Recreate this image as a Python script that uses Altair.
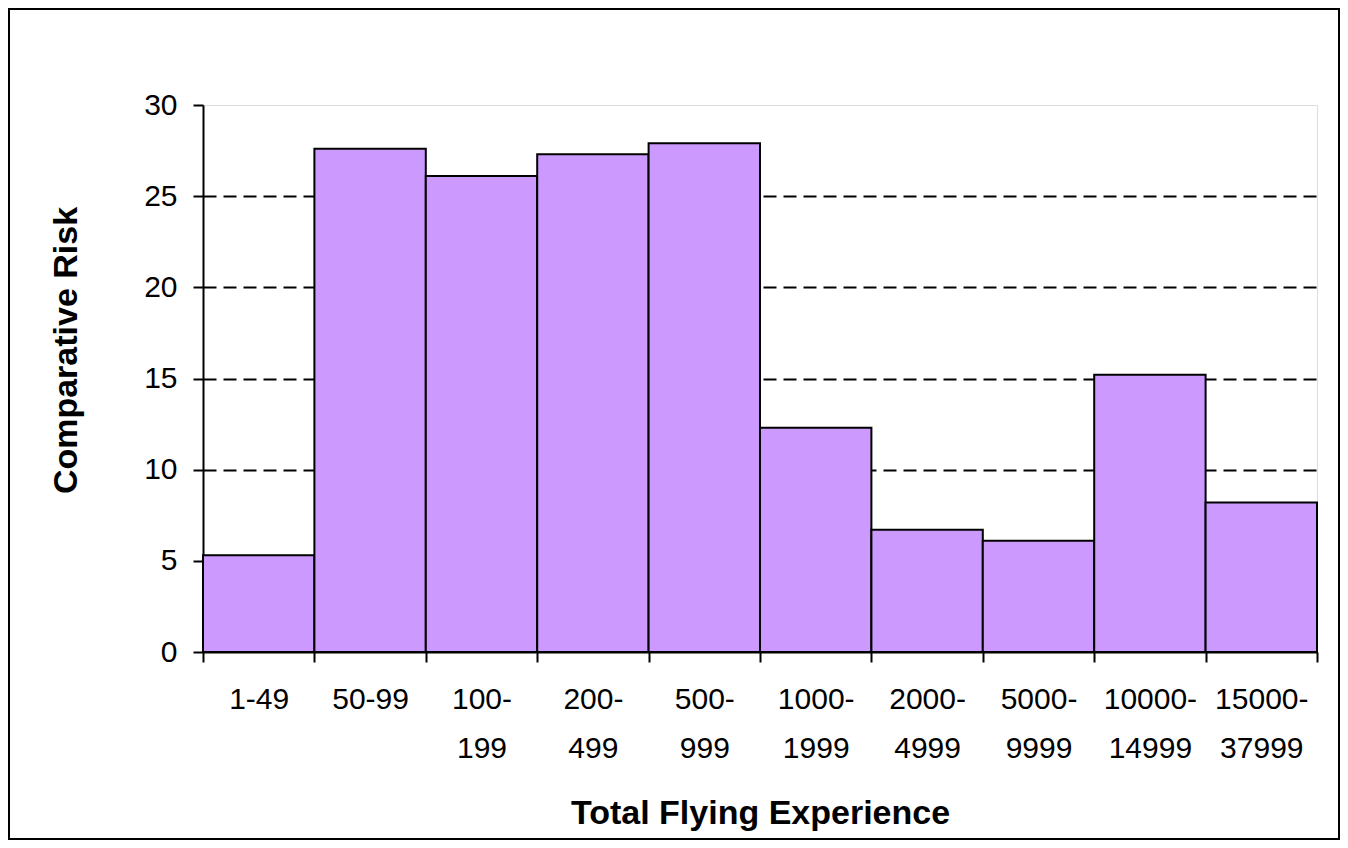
import altair as alt
import pandas as pd

categories = ["1-49", "50-99", "100-199", "200-499", "500-999",
              "1000-1999", "2000-4999", "5000-9999", "10000-14999", "15000-37999"]
risk = [5.3, 27.6, 26.1, 27.3, 27.9, 12.3, 6.7, 6.1, 15.2, 8.2]
y_ticks = [0, 5, 10, 15, 20, 25, 30]

df = pd.DataFrame({"exp": categories, "risk": risk})

W, H = 1114, 547
PL, PT, PR, PB = 195, 97, 23, 188
FONT = "Liberation Sans"

label_expr = ("indexof(datum.label, '-') >= 3 ? "
              "[slice(datum.label, 0, indexof(datum.label, '-') + 1), "
              "slice(datum.label, indexof(datum.label, '-') + 1)] : datum.label")

bars = alt.Chart(df).mark_bar(
    color="#CC99FF", stroke="black", strokeWidth=2
).encode(
    x=alt.X("exp:N", sort=categories,
            scale=alt.Scale(paddingInner=0, paddingOuter=0),
            axis=alt.Axis(title="Total Flying Experience", labelAngle=0,
                          labelExpr=label_expr, labelLineHeight=49,
                          labelBaseline="alphabetic", labelPadding=46,
                          tickBand="extent", tickSize=10, tickWidth=2,
                          tickColor="black", domainColor="black", domainWidth=2,
                          labelFont=FONT, labelFontSize=30, labelColor="black",
                          titleFont=FONT, titleFontSize=34, titleFontWeight="bold",
                          titleColor="black", titleX=W / 2, titleY=171,
                          titleBaseline="alphabetic", labelOverlap=False,
                          labelLimit=300)),
    y=alt.Y("risk:Q",
            scale=alt.Scale(domain=[0, 30], nice=False),
            axis=alt.Axis(title="Comparative Risk", values=y_ticks,
                          tickSize=10, tickWidth=2, tickColor="black",
                          domainColor="black", domainWidth=2,
                          labelFont=FONT, labelFontSize=30, labelColor="black",
                          labelPadding=16,
                          grid=True, gridColor="black", gridWidth=2,
                          gridDash=[13, 7],
                          gridOpacity={"condition": {"test": "datum.value === 30 || datum.value === 0", "value": 0}, "value": 1},
                          titleFont=FONT, titleFontSize=34, titleFontWeight="bold",
                          titleColor="black", titleX=-127, titleY=245,
                          titleBaseline="alphabetic")),
)

border = alt.Chart(alt.Data(values=[{}])).mark_rect(
    fill="transparent", stroke="black", strokeWidth=2, clip=False
).encode(
    x=alt.value(-PL + 1), x2=alt.value(W + PR - 1),
    y=alt.value(-PT + 1), y2=alt.value(H + PB - 1),
)

chart = alt.layer(bars, border).properties(
    width=W, height=H,
    autosize=alt.AutoSizeParams(type="none"),
    padding={"left": PL, "top": PT, "right": PR, "bottom": PB},
).configure_view(
    stroke="#a0a0a0", strokeWidth=2
).configure(background="white")

chart.save("out.html", embed_options={"renderer": "svg", "actions": False})
